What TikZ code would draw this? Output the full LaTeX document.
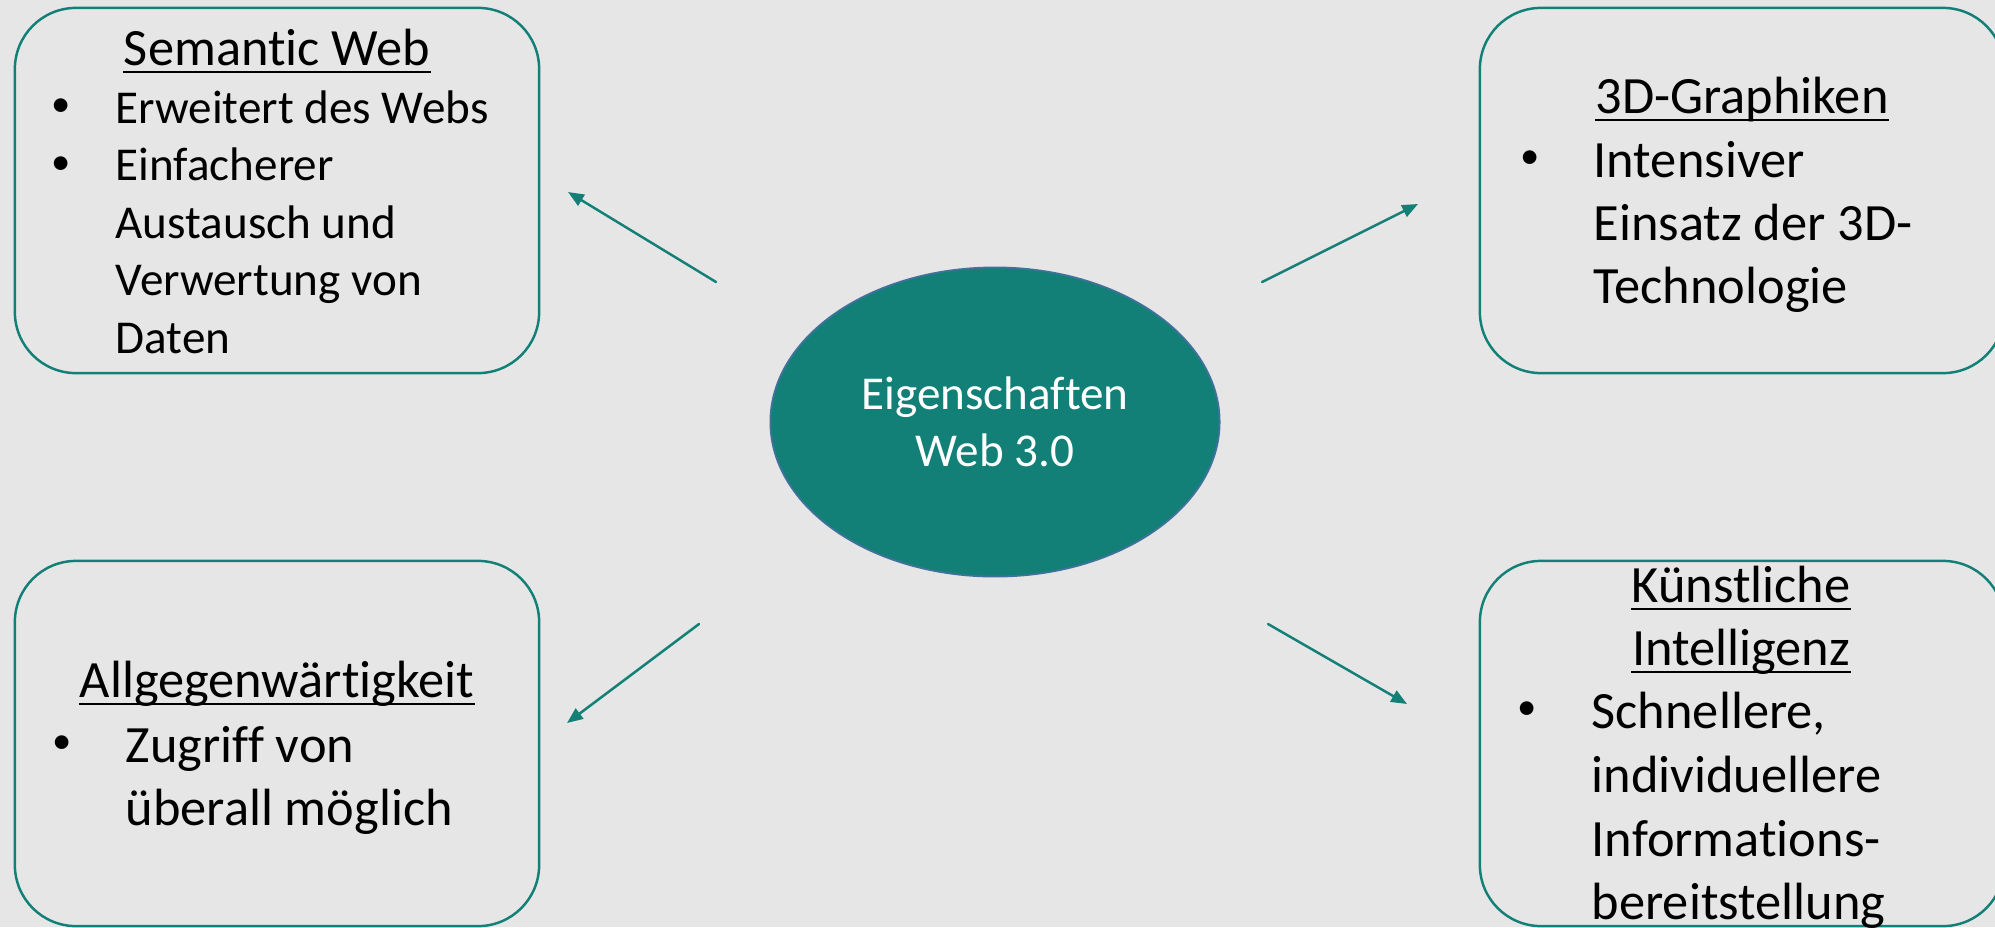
\documentclass[tikz,border=0pt]{standalone}
\usepackage{fontspec}
\setmainfont{Carlito}[Ligatures={NoCommon}]
\usetikzlibrary{shapes.geometric,arrows.meta}
\definecolor{webteal}{RGB}{18,128,118}
\definecolor{slidegray}{RGB}{231,230,230}
\definecolor{rimblue}{RGB}{65,113,156}
\begin{document}
\begin{tikzpicture}[x=0.01cm,y=-0.01cm,line cap=round,line join=round,
  >={Triangle[length=4.5pt,width=3.6pt]},
  box/.style={draw=webteal,line width=0.7pt,rounded corners=17.4pt,
    minimum width=5.24cm,minimum height=3.65cm,inner sep=0pt},
  head/.style={anchor=base,inner sep=0pt,font=\fontsize{14.9}{18}\selectfont},
  item/.style={anchor=base west,inner sep=0pt,font=\fontsize{14.9}{18}\selectfont},
  blt/.style={anchor=center,inner sep=0pt,font=\fontsize{11}{13}\selectfont},
  small/.style={font=\fontsize{13.4}{16.4}\selectfont},
  uline/.style={line width=0.8pt,line cap=butt},
  link/.style={->,draw=webteal,line width=0.7pt}]
\useasboundingbox (0,0) rectangle (1995,927);
\clip (0,0) rectangle (1995,927);
\fill[slidegray] (0,0) rectangle (1995,927);
% centre
\node[ellipse,fill=webteal,draw=rimblue,line width=0.5pt,minimum width=4.49cm,
  minimum height=3.09cm,inner sep=0pt,text=white,align=center,
  font=\fontsize{13.4}{16.2}\selectfont] (eig) at (995,422) {Eigenschaften\\Web 3.0};
% the four boxes
\node[box] (sw) at (277,190.5) {};
\node[box] (gr) at (1742,190.5) {};
\node[box] (ag) at (277,743.5) {};
\node[box] (ki) at (1742,743.5) {};
% Semantic Web
\draw (277,65) node[head] (swt) {Semantic Web};
\draw (61,108) node[blt] (swb1) {\textbullet};
\draw (115,123) node[item,small] (sw1) {Erweitert des Webs};
\draw (61,165.5) node[blt] (swb2) {\textbullet};
\draw (115,180.5) node[item,small] (sw2) {Einfacherer};
\draw (115,238) node[item,small] (sw3) {Austausch und};
\draw (115,295.5) node[item,small] (sw4) {Verwertung von};
\draw (115,353) node[item,small] (sw5) {Daten};
% 3D-Graphiken
\draw (1742,113) node[head] (grt) {3D-Graphiken};
\draw (1530,160) node[blt] (grb1) {\textbullet};
\draw (1593,177) node[item] (gr1) {Intensiver};
\draw (1593,240) node[item] (gr2) {Einsatz der 3D-};
\draw (1593,303) node[item] (gr3) {Technologie};
% Allgegenwaertigkeit
\draw (277,697) node[head] (agt) {Allgegenwärtigkeit};
\draw (62,745) node[blt] (agb1) {\textbullet};
\draw (125,762) node[item] (ag1) {Zugriff von};
\draw (125,825) node[item] (ag2) {überall möglich};
% Kuenstliche Intelligenz
\draw (1741,602) node[head] (kit1) {Künstliche};
\draw (1741,665) node[head] (kit2) {Intelligenz};
\draw (1527,711) node[blt] (kib1) {\textbullet};
\draw (1591,728) node[item] (ki1) {Schnellere,};
\draw (1591,792) node[item] (ki2) {individuellere};
\draw (1591,856) node[item] (ki3) {Informations-};
\draw (1591,919) node[item] (ki4) {bereitstellung};
% underlines of the headings
\draw[uline] ([yshift=-2pt]swt.base west) -- ([yshift=-2pt]swt.base east);
\draw[uline] ([yshift=-2pt]grt.base west) -- ([yshift=-2pt]grt.base east);
\draw[uline] ([yshift=-2pt]agt.base west) -- ([yshift=-2pt]agt.base east);
\draw[uline] ([yshift=-2pt]kit1.base west) -- ([yshift=-2pt]kit1.base east);
\draw[uline] ([yshift=-2pt]kit2.base west) -- ([yshift=-2pt]kit2.base east);
% arrows
\coordinate (swfrom) at (716,282);
\coordinate (swto) at (568,192);
\coordinate (grfrom) at (1262,282);
\coordinate (grto) at (1418,204);
\coordinate (agfrom) at (699,624);
\coordinate (agto) at (567,723);
\coordinate (kifrom) at (1268,624);
\coordinate (kito) at (1407,704);
\draw[link] (swfrom) -- (swto);
\draw[link] (grfrom) -- (grto);
\draw[link] (agfrom) -- (agto);
\draw[link] (kifrom) -- (kito);
\end{tikzpicture}
\end{document}
